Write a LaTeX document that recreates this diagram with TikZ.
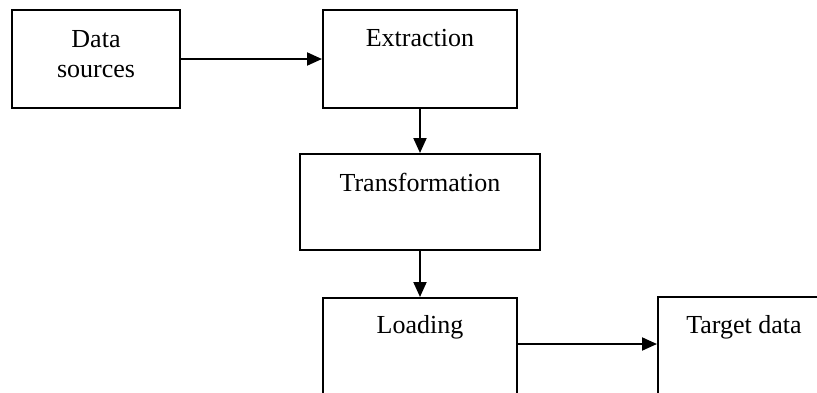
\documentclass[tikz,border=0pt]{standalone}
\usepackage{fontspec}
\setmainfont{Liberation Serif}
\usetikzlibrary{arrows.meta,calc}
\begin{document}
\begin{tikzpicture}[x=1pt,y=-1pt,
  box/.style={draw,line width=2pt,rectangle,inner sep=0pt},
  lbl/.style={font=\fontsize{26}{30}\selectfont,anchor=base,inner sep=0pt},
  arr/.style={line width=2pt,-{Triangle[length=15pt,width=13pt]}}]
\useasboundingbox (0,0) rectangle (817,392);
\clip (0,0) rectangle (817,392);
\node[box,minimum width=168pt,minimum height=98pt] (ds) at (96,59) {};
\node[box,minimum width=194pt,minimum height=98pt] (ex) at (420,59) {};
\node[box,minimum width=240pt,minimum height=96pt] (tr) at (420,202) {};
\node[box,minimum width=194pt,minimum height=120pt] (ld) at (420,358) {};
\node[box,minimum width=172pt,minimum height=120pt] (tg) at (744,357) {};
\node[lbl] (dst1) at (96,47) {Data};
\node[lbl] (dst2) at (96,77) {sources};
\node[lbl] (ext) at (420,46) {Extraction};
\node[lbl] (trt) at (420,191) {Transformation};
\node[lbl] (ldt) at (420,333) {Loading};
\node[lbl] (tgt) at (744,333) {Target data};
\draw[arr] (ds.east) -- (ds.east -| ex.west);
\draw[arr] (ex.south) -- (tr.north);
\draw[arr] (tr.south) -- (ld.north);
\draw[arr] ([yshift=-47pt]ld.north east) -- ([yshift=-47pt]ld.north east -| tg.west);
\end{tikzpicture}
\end{document}
